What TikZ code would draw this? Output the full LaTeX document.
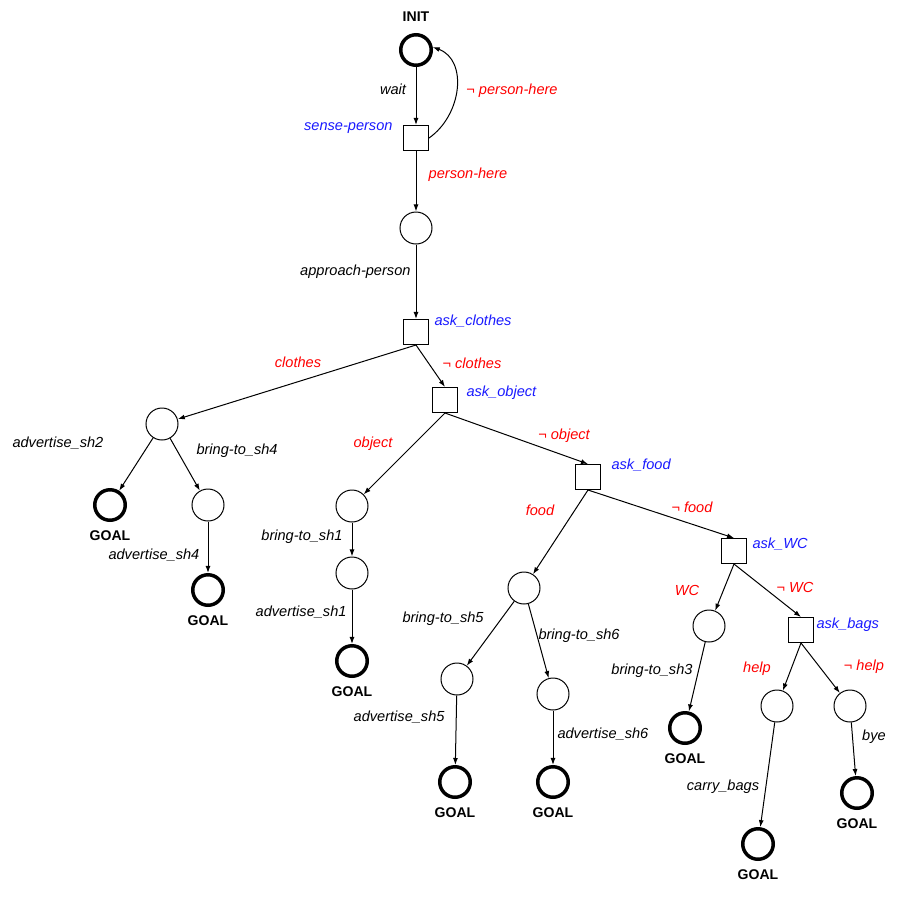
\documentclass[tikz,border=0pt]{standalone}
\usepackage{fontspec}
\setsansfont{Liberation Sans}
\usetikzlibrary{arrows.meta}
\definecolor{CondRed}{HTML}{FF0000}
\definecolor{SenseBlue}{HTML}{1A1AFF}
\begin{document}
\begin{tikzpicture}[x=0.2mm,y=-0.2mm,>={Latex[length=4pt,width=2.8pt]},line width=0.57pt,
  every node/.style={font=\sffamily\fontsize{8.3}{10}\selectfont},
  place/.style={draw,circle,minimum size=6.4mm,inner sep=0pt},
  endplace/.style={draw,circle,minimum size=6.1mm,inner sep=0pt,line width=0.7mm},
  goalplace/.style={endplace,label={[font=\sffamily\bfseries\fontsize{8}{10}\selectfont,label distance=0.5mm]below:GOAL}},
  sensing/.style={draw,rectangle,minimum size=5mm,inner sep=0pt},
  act/.style={inner sep=0pt,font=\sffamily\itshape\fontsize{8.3}{10}\selectfont},
  cond/.style={act,text=CondRed},
  sname/.style={act,text=SenseBlue}]
\fill[white] (0,0) rectangle (917,920);
% places and sensing actions
\node[endplace,label={[font=\sffamily\bfseries\fontsize{8}{10}\selectfont,label distance=1mm]above:INIT}] (init) at (416,50) {};
\node[sensing] (sense) at (416,138) {};
\node[place] (p0) at (416,228) {};
\node[sensing] (askcl) at (416,332) {};
\node[place] (pcl) at (162,424) {};
\node[sensing] (askobj) at (445,400) {};
\node[goalplace] (goal2) at (110,505) {};
\node[place] (p4) at (208,505) {};
\node[goalplace] (goal4) at (208,590) {};
\node[place] (pobj) at (352,506) {};
\node[place] (p1) at (352,573) {};
\node[goalplace] (goal1) at (352,661) {};
\node[sensing] (askfood) at (588,477) {};
\node[place] (pfood) at (524,588) {};
\node[place] (p5) at (457,679) {};
\node[place] (p6) at (553,694) {};
\node[goalplace] (goal5) at (455,782) {};
\node[goalplace] (goal6) at (553,782) {};
\node[sensing] (askwc) at (734,551) {};
\node[place] (pwc) at (709,626) {};
\node[goalplace] (goal3) at (685,728) {};
\node[sensing] (askbags) at (801,630) {};
\node[place] (phelp) at (777,706) {};
\node[place] (pbye) at (850,706) {};
\node[goalplace] (goalc) at (758,844) {};
\node[goalplace] (goalb) at (857,793) {};
% labels
\node[act] (lwait) at (393,89) {wait};
\node[cond] (lnoperson) at (512,91) {¬ person-here};
\node[sname,anchor=east] (lsense) at (393,128) {sense-person};
\node[cond] (lperson) at (468,175) {person-here};
\node[act,anchor=east] (lapproach) at (411,272) {approach-person};
\node[sname,anchor=west] (laskcl) at (434,321) {ask\_clothes};
\node[cond] (lclothes) at (298,362) {clothes};
\node[cond] (lnoclothes) at (472,363) {¬ clothes};
\node[sname,anchor=west] (laskobj) at (466,393) {ask\_object};
\node[act,anchor=west] (lad2) at (12,443) {advertise\_sh2};
\node[act,anchor=west] (lbr4) at (196,451) {bring-to\_sh4};
\node[act,anchor=west] (lad4) at (108,555) {advertise\_sh4};
\node[cond] (lobj) at (373,444) {object};
\node[cond] (lnoobj) at (564,436) {¬ object};
\node[sname,anchor=west] (laskfood) at (611,465) {ask\_food};
\node[act,anchor=east] (lbr1) at (343,537) {bring-to\_sh1};
\node[act,anchor=east] (lad1) at (347,612) {advertise\_sh1};
\node[cond] (lfood) at (540,510) {food};
\node[cond] (lnofood) at (692,507) {¬ food};
\node[sname,anchor=west] (laskwc) at (752,544) {ask\_WC};
\node[act,anchor=west] (lbr5) at (402,619) {bring-to\_sh5};
\node[act,anchor=west] (lbr6) at (538,636) {bring-to\_sh6};
\node[act,anchor=east] (lad5) at (445,717) {advertise\_sh5};
\node[act,anchor=west] (lad6) at (557,734) {advertise\_sh6};
\node[cond] (lwc) at (687,590) {WC};
\node[cond] (lnowc) at (795,587) {¬ WC};
\node[sname,anchor=west] (laskbags) at (816,625) {ask\_bags};
\node[act,anchor=east] (lbr3) at (693,671) {bring-to\_sh3};
\node[cond] (lhelp) at (757,669) {help};
\node[cond] (lnohelp) at (864,667) {¬ help};
\node[act] (lbye) at (874,737) {bye};
\node[act] (lcarry) at (723,787) {carry\_bags};
% arcs
\draw[->] (init) -- (sense);
\draw[->] (sense.east) .. controls (462,115) and (468,60) .. (init.10);
\draw[->] (sense) -- (p0);
\draw[->] (p0) -- (askcl);
\draw[->] (askcl.south) -- (pcl); \draw[->] (askcl.south) -- (askobj.north);
\draw[->] (pcl) -- (goal2); \draw[->] (pcl) -- (p4); \draw[->] (p4) -- (goal4);
\draw[->] (askobj.south) -- (pobj); \draw[->] (askobj.south) -- (askfood.north);
\draw[->] (pobj) -- (p1); \draw[->] (p1) -- (goal1);
\draw[->] (askfood.south) -- (pfood); \draw[->] (askfood.south) -- (askwc.north);
\draw[->] (pfood) -- (p5); \draw[->] (pfood) -- (p6);
\draw[->] (p5) -- (goal5); \draw[->] (p6) -- (goal6);
\draw[->] (askwc.south) -- (pwc); \draw[->] (askwc.south) -- (askbags.north);
\draw[->] (pwc) -- (goal3);
\draw[->] (askbags.south) -- (phelp); \draw[->] (askbags.south) -- (pbye);
\draw[->] (phelp) -- (goalc); \draw[->] (pbye) -- (goalb);
\end{tikzpicture}
\end{document}
